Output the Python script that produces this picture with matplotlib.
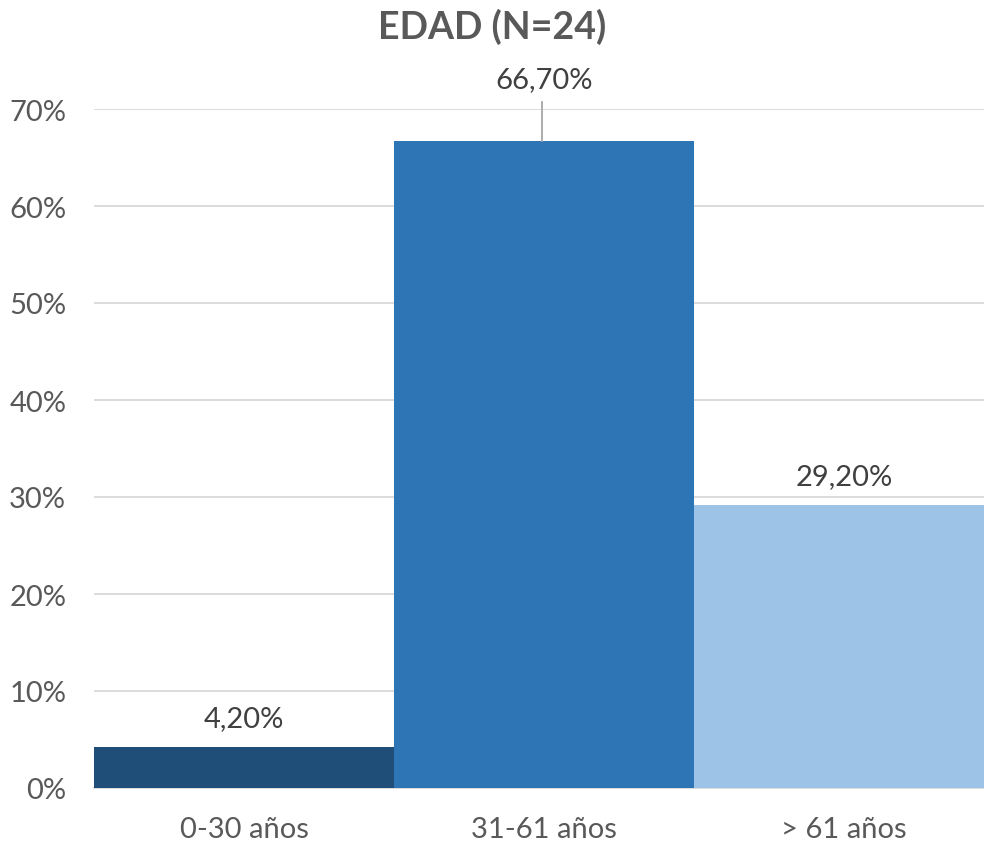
import matplotlib
matplotlib.use("Agg")
import matplotlib.pyplot as plt
from matplotlib.ticker import FuncFormatter

plt.rcParams['font.family'] = ['Lato', 'DejaVu Sans']

categories = ["0-30 años", "31-61 años", "> 61 años"]
values = [4.2, 66.7, 29.2]
value_labels = ["4,20%", "66,70%", "29,20%"]
bar_colors = ["#1F4E79", "#2E75B6", "#9DC3E6"]
yticks = [0, 10, 20, 30, 40, 50, 60, 70]

W, H = 984, 845
fig = plt.figure(figsize=(W / 100, H / 100), dpi=100)
ax = fig.add_axes([94 / W, 56 / H, 900 / W, 679 / H])

x = list(range(len(categories)))
ax.bar(x, values, width=1.0, color=bar_colors, zorder=3)

ax.set_xlim(-0.5, 2.5)
ax.set_ylim(0, 70)
ax.set_yticks(yticks)
ax.yaxis.set_major_formatter(FuncFormatter(lambda v, p: f"{int(v)}%"))
ax.set_xticks(x)
ax.set_xticklabels(categories)

ax.grid(axis="y", color="#D9D9D9", linewidth=1.3, zorder=0)
ax.set_axisbelow(True)
for s in ["top", "right", "left"]:
    ax.spines[s].set_visible(False)
ax.spines["bottom"].set_color("#D9D9D9")
ax.spines["bottom"].set_linewidth(1.3)
ax.tick_params(axis="both", length=0, labelsize=21, colors="#595959")
ax.tick_params(axis="y", pad=20)
ax.tick_params(axis="x", pad=20)

# value labels; the tall bar gets a leader line down to its top
for i, (v, lab) in enumerate(zip(values, value_labels)):
    if i == 1:
        ty = v + 6.4
        ax.plot([i - 0.007, i - 0.007], [v, v + 4.0], color="#A6A6A6",
                linewidth=1.3, clip_on=False, zorder=4)
    else:
        ty = v + 3.0
    ax.text(i, ty, lab, ha="center", va="center", fontsize=21,
            color="#404040", clip_on=False)

fig.text(0.5, 1 - 27 / H, "EDAD (N=24)", ha="center", va="center",
         fontsize=27, fontweight="bold", color="#595959")

fig.savefig("out.png", dpi=100)
